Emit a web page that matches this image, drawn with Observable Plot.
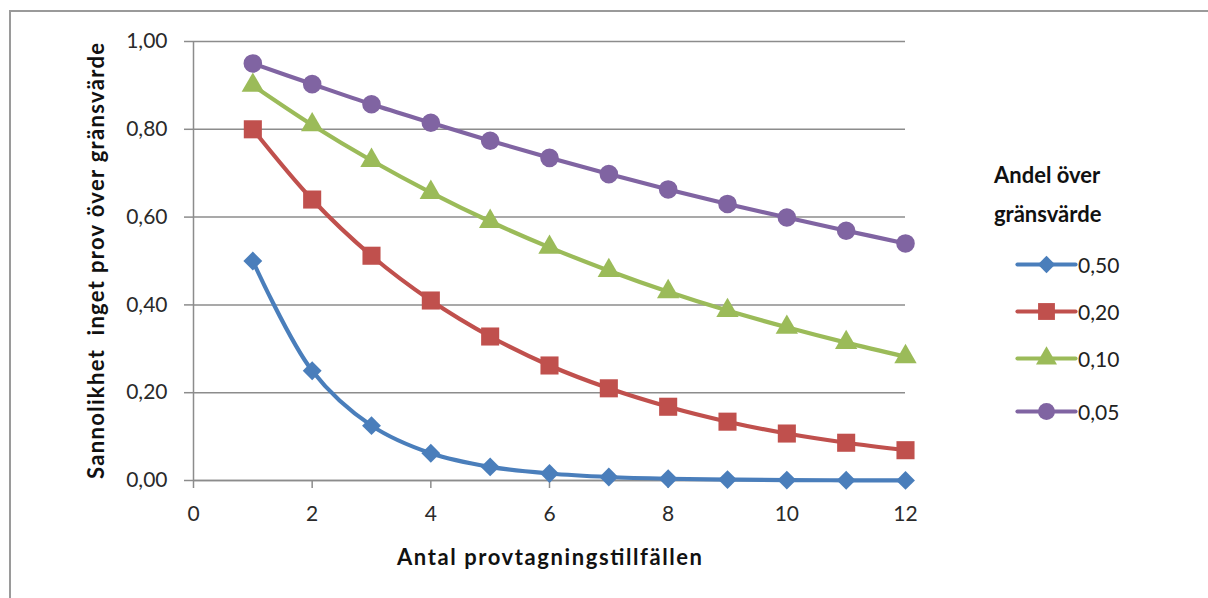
<!DOCTYPE html>
<html>
<head>
<meta charset="utf-8">
<script src="https://cdn.jsdelivr.net/npm/d3@7"></script>
<script src="https://cdn.jsdelivr.net/npm/@observablehq/plot@0.6"></script>
<style>
  html, body { margin: 0; padding: 0; background: #fff; }
  #wrap { position: relative; width: 1208px; height: 598px; overflow: hidden; font-family: Lato, "Open Sans", sans-serif; }
  #frame { position: absolute; left: 9px; top: 10px; width: 1300px; height: 700px; border-left: 2px solid #9a9a9a; border-top: 2px solid #9a9a9a; }
  #chart { position: absolute; left: 0; top: 0; }
  #legend { position: absolute; left: 994px; top: 155px; color: #111; }
  #legend .title { font-weight: bold; font-size: 22px; line-height: 39px; white-space: nowrap; }
  #legend .item { position: absolute; left: 23px; height: 30px; display: flex; align-items: center; font-size: 21px; color: #222; }
</style>
</head>
<body>
<div id="wrap">
  <div id="frame"></div>
  <div id="chart"></div>
  <div id="legend"></div>
</div>
<script>
// ---- data ----
const xTicks = [0, 2, 4, 6, 8, 10, 12];
const yTicks = [0, 0.2, 0.4, 0.6, 0.8, 1.0];
const samples = [1, 2, 3, 4, 5, 6, 7, 8, 9, 10, 11, 12];
const seriesNames = ["0,50", "0,20", "0,10", "0,05"];
const seriesColors = ["#4a7ebb", "#c0504d", "#9bbb59", "#8064a2"];
const seriesSymbols = ["diamond2", "square", "triangle", "circle"];
const values050 = [0.50, 0.25, 0.125, 0.062, 0.031, 0.016, 0.008, 0.004, 0.002, 0.001, 0.0005, 0.0002];
const values020 = [0.80, 0.64, 0.512, 0.41, 0.328, 0.262, 0.21, 0.168, 0.134, 0.107, 0.086, 0.069];
const values010 = [0.90, 0.81, 0.729, 0.656, 0.59, 0.531, 0.478, 0.43, 0.387, 0.349, 0.314, 0.282];
const values005 = [0.95, 0.903, 0.857, 0.815, 0.774, 0.735, 0.698, 0.663, 0.63, 0.599, 0.569, 0.54];
const yLabel = "Sannolikhet  inget prov över gränsvärde";
const xLabel = "Antal provtagningstillfällen";
const legendTitle = ["Andel över", "gränsvärde"];

const allValues = [values050, values020, values010, values005];
const rows = [];
seriesNames.forEach((name, i) => {
  samples.forEach((n, j) => rows.push({series: name, n, p: allValues[i][j]}));
});

const fmt = d => d.toFixed(2).replace(".", ",");
const symbolSize = {"diamond2": 8.5, "square": 10.2, "triangle": 8.3, "circle": 9.3};
const legendSize = {"diamond2": 7.8, "square": 9.5, "triangle": 7.8, "circle": 8.5};

const chart = Plot.plot({
  width: 1208,
  height: 598,
  marginLeft: 193,
  marginRight: 303,
  marginTop: 41,
  marginBottom: 118,
  style: {fontFamily: "Lato, 'Open Sans', sans-serif", fontSize: "21px", color: "#333", background: "transparent"},
  x: {domain: [0, 12]},
  y: {domain: [0, 1]},
  color: {domain: seriesNames, range: seriesColors},
  symbol: {domain: seriesNames, range: seriesSymbols},
  marks: [
    Plot.gridY(yTicks, {stroke: "#8c8c8c", strokeOpacity: 1, strokeWidth: 1.5}),
    Plot.axisY(yTicks, {tickFormat: fmt, tickSize: 9, tickPadding: 17, stroke: "#8c8c8c", strokeWidth: 1.5, fill: "#2a2a2a", label: null, fontSize: 21}),
    Plot.axisX(xTicks, {tickFormat: d => String(d), tickSize: 8, tickPadding: 18, stroke: "#8c8c8c", strokeWidth: 1.5, fill: "#2a2a2a", label: null, fontSize: 21}),
    Plot.ruleX([0], {stroke: "#8c8c8c", strokeWidth: 1.5}),
    Plot.ruleY([0], {stroke: "#8c8c8c", strokeWidth: 1.5}),
    Plot.line(rows, {x: "n", y: "p", z: "series", stroke: "series", strokeWidth: 4.2, curve: "catmull-rom"}),
    ...seriesNames.map((name, i) =>
      Plot.dot(rows.filter(d => d.series === name), {x: "n", y: "p", symbol: "series", fill: "series", r: symbolSize[seriesSymbols[i]], stroke: "none"})
    ),
    Plot.text([yLabel], {frameAnchor: "left", dx: -97, rotate: -90, textAnchor: "middle", lineAnchor: "middle", fontWeight: "bold", fontSize: 22, fill: "#111", text: d => d}),
    Plot.text([xLabel], {frameAnchor: "bottom", dy: 77, textAnchor: "middle", lineAnchor: "middle", fontWeight: "bold", fontSize: 22, fill: "#111", text: d => d})
  ]
});
document.getElementById("chart").appendChild(chart);

// stretch axis titles to the reference's measured lengths
chart.querySelectorAll("text").forEach(t => {
  if (t.textContent === yLabel) { t.setAttribute("textLength", 436); t.setAttribute("lengthAdjust", "spacing"); }
  if (t.textContent === xLabel) { t.setAttribute("textLength", 305); t.setAttribute("lengthAdjust", "spacing"); }
});

// legend
const legend = document.getElementById("legend");
legendTitle.forEach(t => {
  const d = document.createElement("div");
  d.className = "title";
  d.textContent = t;
  legend.appendChild(d);
});
const itemTops = [94, 141, 188, 241];
seriesNames.forEach((name, i) => {
  const item = document.createElement("div");
  item.className = "item";
  item.style.top = itemTops[i] + "px";
  const r = legendSize[seriesSymbols[i]];
  const pts = [{series: name, x: 0, y: 0.5}, {series: name, x: 1, y: 0.5}];
  const sym = Plot.plot({
    width: 58, height: 30, margin: 0,
    x: {domain: [0, 1], axis: null}, y: {domain: [0, 1], axis: null},
    color: {domain: seriesNames, range: seriesColors},
    symbol: {domain: seriesNames, range: seriesSymbols},
    style: {background: "transparent", overflow: "visible"},
    marks: [
      Plot.line(pts, {x: "x", y: "y", stroke: "series", strokeWidth: 4.2}),
      Plot.dot([{series: name}], {x: 0.5, y: 0.5, symbol: "series", fill: "series", r, stroke: "none"})
    ]
  });
  sym.style.display = "block";
  item.appendChild(sym);
  const lab = document.createElement("span");
  lab.textContent = name;
  lab.style.marginLeft = "3px";
  item.appendChild(lab);
  legend.appendChild(item);
});
</script>
</body>
</html>
